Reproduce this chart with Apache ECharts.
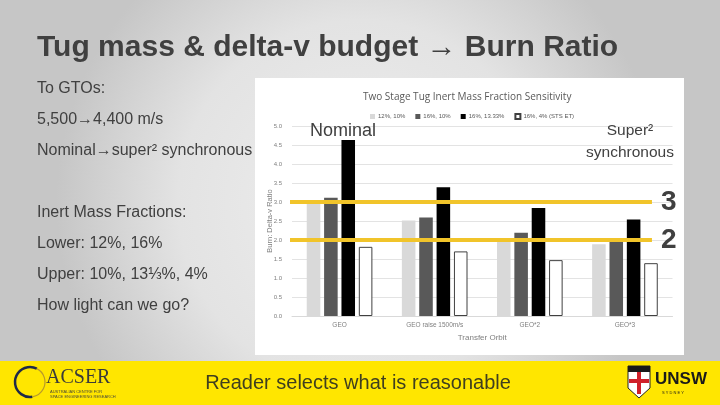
<!DOCTYPE html>
<html>
<head>
<meta charset="utf-8">
<script src="https://cdn.jsdelivr.net/npm/echarts@6/dist/echarts.min.js"></script>
<style>
html,body{margin:0;padding:0;background:#ddd;}
#main{width:720px;height:405px;}
</style>
</head>
<body>
<div id="main"></div>
<script>
// ---- data ----
const categories = ['GEO', 'GEO raise 1500m/s', 'GEO*2', 'GEO*3'];
const seriesNames = ['12%, 10%', '16%, 10%', '16%, 13.33%', '16%, 4% (STS ET)'];
const s12_10 = [2.95, 2.51, 2.00, 1.89];
const s16_10 = [3.11, 2.59, 2.19, 2.00];
const s16_1333 = [4.63, 3.39, 2.84, 2.54];
const s16_4 = [1.82, 1.70, 1.47, 1.39];
const thresholds = [3, 2];
const bulletLines = ['To GTOs:', '5,500\u21924,400 m/s', 'Nominal\u2192super\u00b2 synchronous', '', 'Inert Mass Fractions:', 'Lower: 12%, 16%', 'Upper: 10%, 13\u2153%, 4%', 'How light can we go?'];

const chart = echarts.init(document.getElementById('main'), null, {renderer: 'canvas'});
const barColors = ['#d9d9d9', '#595959', '#000000', '#ffffff'];
const allVals = [s12_10, s16_10, s16_1333, s16_4];

const barSeries = allVals.map((vals, i) => ({
  name: seriesNames[i],
  type: 'bar',
  data: vals,
  barGap: '28%',
  barCategoryGap: '31%',
  itemStyle: i === 3 ? {color: '#ffffff', borderColor: '#404040', borderWidth: 1} : {color: barColors[i]},
  z: 2
}));

const lineStart = -0.007, lineEnd = 0.946;
const threshSeries = thresholds.map(t => ({
  type: 'line',
  xAxisIndex: 1,
  data: [
    {value: [lineStart, t], label: {show: false}},
    {value: [lineEnd, t], label: {show: true, position: 'right', distance: 9, formatter: String(t), fontSize: 28, fontWeight: 'bold', color: '#404040', fontFamily: 'Liberation Sans, Arial, sans-serif'}}
  ],
  symbol: 'circle',
  symbolSize: 0,
  showSymbol: true,
  clip: false,
  silent: true,
  lineStyle: {color: '#f1c42a', width: 4},
  z: 5
}));

const textFont = 'Liberation Sans, Arial, sans-serif';
const graphics = [
  {type: 'rect', z: -10, shape: {x: 0, y: 0, width: 720, height: 405},
   style: {fill: new echarts.graphic.RadialGradient(0.5, 0.5, 0.75, [{offset: 0, color: '#eeeeee'}, {offset: 0.6, color: '#e3e3e3'}, {offset: 1, color: '#c6c6c6'}])}},
  {type: 'rect', z: -9, shape: {x: 255, y: 78, width: 429, height: 277}, style: {fill: '#ffffff'}},
  {type: 'text', z: 10, left: 37, top: 33, style: {text: 'Tug mass & delta-v budget \u2192 Burn Ratio', font: 'bold 30px ' + textFont, fill: '#404040'}},
  {type: 'text', z: 10, left: 310, top: 122, style: {text: 'Nominal', font: '18px ' + textFont, fill: '#404040'}},
  {type: 'text', z: 10, x: 630, y: 120, style: {text: 'Super\u00b2\nsynchronous', font: '15.5px ' + textFont, fill: '#404040', align: 'center', lineHeight: 22}},
  // bottom bar
  {type: 'rect', z: 1, shape: {x: 0, y: 361, width: 720, height: 44}, style: {fill: '#ffe600'}},
  {type: 'text', z: 10, x: 358, y: 383, style: {text: 'Reader selects what is reasonable', font: '20px ' + textFont, fill: '#3f3f1f', align: 'center', verticalAlign: 'middle'}},
  // ACSER logo
  {type: 'arc', z: 10, shape: {cx: 30, cy: 382, r: 15, startAngle: Math.PI * 0.45, endAngle: Math.PI * 1.65}, style: {stroke: '#1f2a48', lineWidth: 2.5, fill: null}},
  {type: 'arc', z: 10, shape: {cx: 30, cy: 382, r: 15, startAngle: Math.PI * 1.65, endAngle: Math.PI * 2.45}, style: {stroke: '#b89a2a', lineWidth: 1.2, fill: null}},
  {type: 'text', z: 10, left: 46, top: 368, style: {text: 'ACSER', font: '20px Liberation Serif, serif', fill: '#3a3a3a'}},
  {type: 'text', z: 10, left: 50, top: 389, style: {text: 'AUSTRALIAN CENTRE FOR\nSPACE ENGINEERING RESEARCH', font: '4px ' + textFont, fill: '#4a4a3a', lineHeight: 5}},
  // UNSW logo
  {type: 'polygon', z: 10, shape: {points: [[628, 366], [650, 366], [650, 388], [639, 398], [628, 388]]}, style: {fill: '#ffffff', stroke: '#222222', lineWidth: 1}},
  {type: 'rect', z: 11, shape: {x: 628, y: 366, width: 22, height: 6}, style: {fill: '#1a1a1a'}},
  {type: 'rect', z: 11, shape: {x: 637, y: 372, width: 4, height: 22}, style: {fill: '#d0202a'}},
  {type: 'rect', z: 11, shape: {x: 629, y: 379, width: 20, height: 4}, style: {fill: '#d0202a'}},
  {type: 'text', z: 10, left: 655, top: 371, style: {text: 'UNSW', font: 'bold 17px ' + textFont, fill: '#1a1a1a'}},
  {type: 'text', z: 10, left: 662, top: 391, style: {text: 'S Y D N E Y', font: '4px ' + textFont, fill: '#1a1a1a'}}
];
bulletLines.forEach((t, i) => {
  if (!t) return;
  graphics.push({type: 'text', z: 10, left: 37, top: 81 + i * 31, style: {text: t, font: '16px ' + textFont, fill: '#404040'}});
});

chart.setOption({
  animation: false,
  title: {text: 'Two Stage Tug Inert Mass Fraction Sensitivity', left: 358, top: 87,
    textStyle: {fontSize: 10, fontWeight: 'normal', color: '#595959', fontFamily: 'Open Sans, Liberation Sans, sans-serif'}},
  legend: {top: 108, left: 365, data: seriesNames, itemWidth: 5, itemHeight: 5, itemGap: 10, icon: 'rect',
    textStyle: {fontSize: 6, color: '#595959', padding: [0, 0, 0, -2]}},
  grid: {left: 292, right: 47.5, top: 126, bottom: 89, containLabel: false},
  xAxis: [
    {type: 'category', data: categories, axisTick: {show: false}, axisLine: {lineStyle: {color: '#d9d9d9'}},
     axisLabel: {fontSize: 6.5, color: '#7f7f7f', margin: 6},
     name: 'Transfer Orbit', nameLocation: 'middle', nameGap: 18, nameTextStyle: {fontSize: 8, color: '#7f7f7f'}},
    {type: 'value', min: 0, max: 1, show: false}
  ],
  yAxis: {type: 'value', min: 0, max: 5, interval: 0.5,
    axisLabel: {fontSize: 6, color: '#7f7f7f', margin: 10, formatter: v => v.toFixed(1)},
    splitLine: {lineStyle: {color: '#e3e3e3'}}, axisLine: {show: false}, axisTick: {show: false},
    name: 'Burn: Delta-v Ratio', nameLocation: 'middle', nameGap: 18, nameMoveOverlap: false, nameRotate: 90,
    nameTextStyle: {fontSize: 7.5, color: '#7f7f7f'}},
  graphic: graphics,
  series: barSeries.concat(threshSeries)
});
</script>
</body>
</html>
